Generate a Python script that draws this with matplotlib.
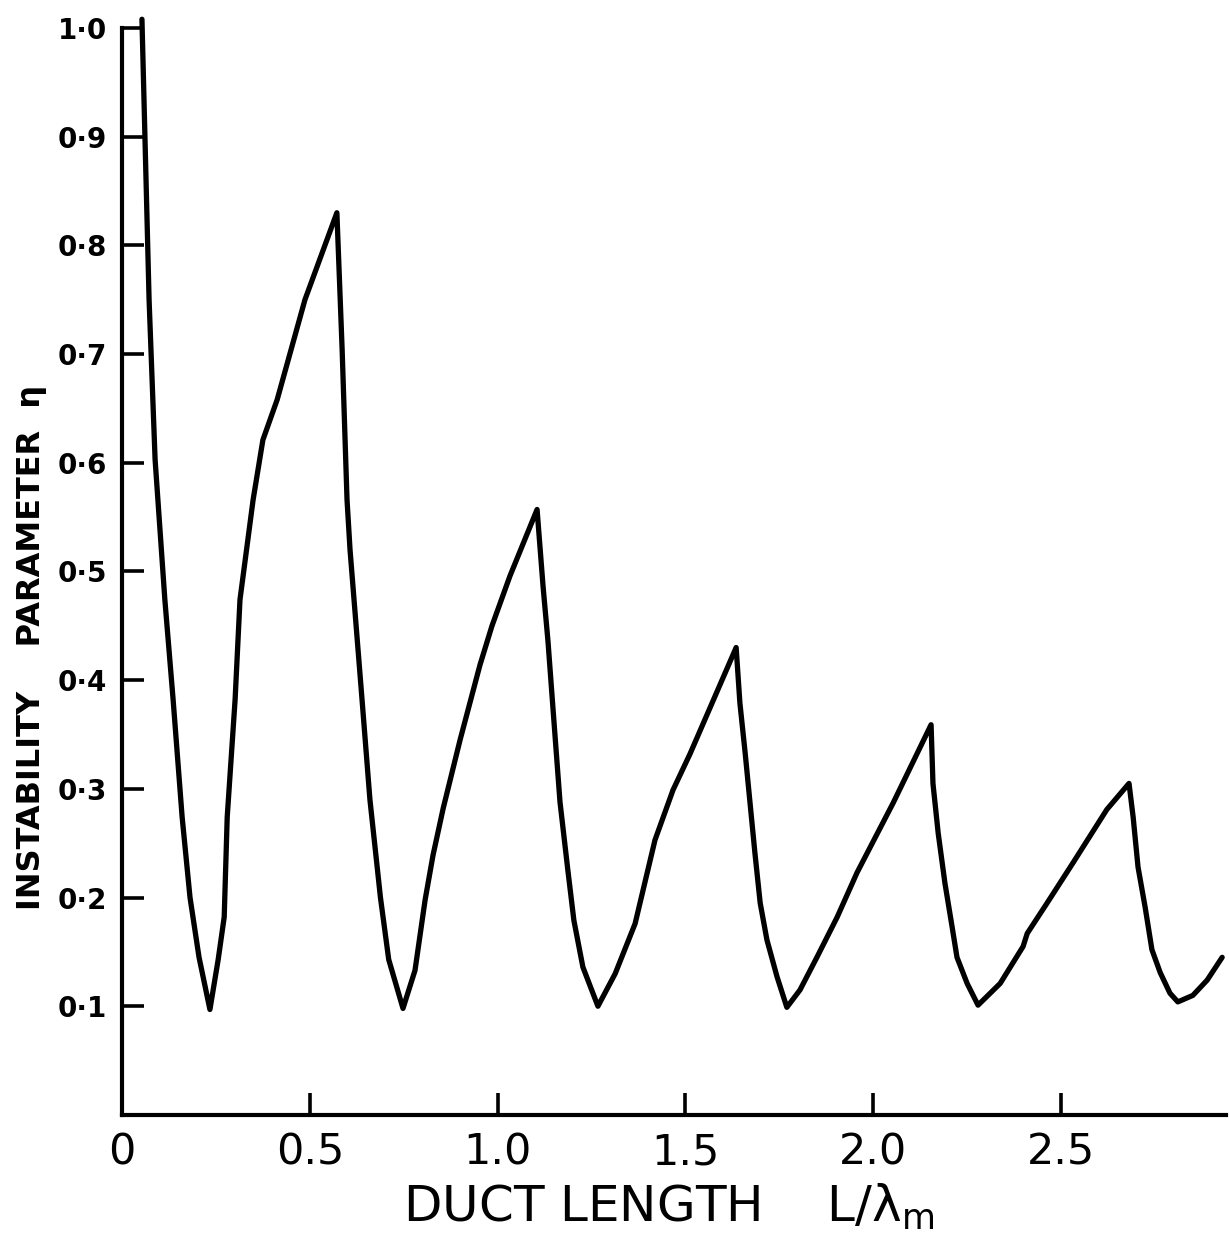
import matplotlib
matplotlib.use("Agg")
import matplotlib.pyplot as plt

# duct length L/lambda_m and instability parameter eta
duct_length = [0.053, 0.072, 0.088, 0.114, 0.136, 0.160, 0.181, 0.205, 0.234,
               0.256, 0.272, 0.280, 0.301, 0.314, 0.349, 0.375, 0.413, 0.487, 0.572,
               0.586, 0.599, 0.607, 0.639, 0.660, 0.688, 0.710, 0.748,
               0.780, 0.807, 0.828, 0.855, 0.900, 0.953, 0.985, 1.033, 1.105,
               1.121, 1.134, 1.148, 1.166, 1.187, 1.203, 1.227, 1.267,
               1.313, 1.366, 1.419, 1.467, 1.512, 1.566, 1.635,
               1.645, 1.659, 1.672, 1.685, 1.699, 1.717, 1.744, 1.770,
               1.805, 1.850, 1.904, 1.957, 2.053, 2.154,
               2.159, 2.173, 2.191, 2.210, 2.223, 2.250, 2.279,
               2.338, 2.399, 2.410, 2.463, 2.532, 2.622, 2.681,
               2.692, 2.705, 2.724, 2.742, 2.764, 2.790, 2.811, 2.851, 2.889, 2.929]
eta = [1.008, 0.750, 0.603, 0.474, 0.382, 0.274, 0.200, 0.145, 0.097,
       0.143, 0.182, 0.274, 0.382, 0.474, 0.566, 0.621, 0.658, 0.750, 0.830,
       0.704, 0.566, 0.520, 0.382, 0.290, 0.200, 0.143, 0.098,
       0.133, 0.198, 0.239, 0.282, 0.345, 0.414, 0.450, 0.496, 0.557,
       0.486, 0.436, 0.371, 0.288, 0.225, 0.179, 0.136, 0.100,
       0.130, 0.176, 0.253, 0.299, 0.332, 0.375, 0.430,
       0.379, 0.333, 0.287, 0.241, 0.195, 0.161, 0.127, 0.099,
       0.115, 0.145, 0.182, 0.223, 0.287, 0.359,
       0.305, 0.259, 0.213, 0.173, 0.145, 0.121, 0.101,
       0.121, 0.155, 0.167, 0.195, 0.232, 0.281, 0.305,
       0.274, 0.228, 0.191, 0.152, 0.131, 0.112, 0.104, 0.110, 0.124, 0.145]

x_ticks = [0, 0.5, 1.0, 1.5, 2.0, 2.5]
x_tick_labels = ["0", "0.5", "1.0", "1.5", "2.0", "2.5"]
y_ticks = [0.1, 0.2, 0.3, 0.4, 0.5, 0.6, 0.7, 0.8, 0.9, 1.0]
y_tick_labels = ["0·1", "0·2", "0·3", "0·4", "0·5", "0·6", "0·7", "0·8", "0·9", "1·0"]

fig = plt.figure(figsize=(12.29, 12.42), dpi=100)
ax = fig.add_axes([0.0993, 0.1023, 0.8985, 0.8752])

ax.plot(duct_length, eta, color="black", linewidth=3.8, clip_on=False,
        solid_joinstyle="round", solid_capstyle="round")

ax.set_xlim(0, 2.94)
ax.set_ylim(0, 1.0)

for side in ["top", "right"]:
    ax.spines[side].set_visible(False)
for side in ["left", "bottom"]:
    ax.spines[side].set_linewidth(3.0)

ax.set_xticks(x_ticks)
ax.set_xticklabels(x_tick_labels, fontsize=31)
ax.set_yticks(y_ticks)
ax.set_yticklabels(y_tick_labels, fontsize=20, fontweight="bold")
ax.tick_params(axis="x", direction="in", length=16, width=2.6, pad=12)
ax.tick_params(axis="y", direction="in", length=16, width=2.6, pad=11)

ax.set_xlabel("DUCT LENGTH    L/λ${}_{\\mathrm{m}}$", fontsize=36)
ax.xaxis.set_label_coords(0.495, -0.062)
ax.set_ylabel("INSTABILITY    PARAMETER  η", fontsize=23, fontweight="bold")
ax.yaxis.set_label_coords(-0.068, 0.43)

plt.savefig("out.png", dpi=100)
